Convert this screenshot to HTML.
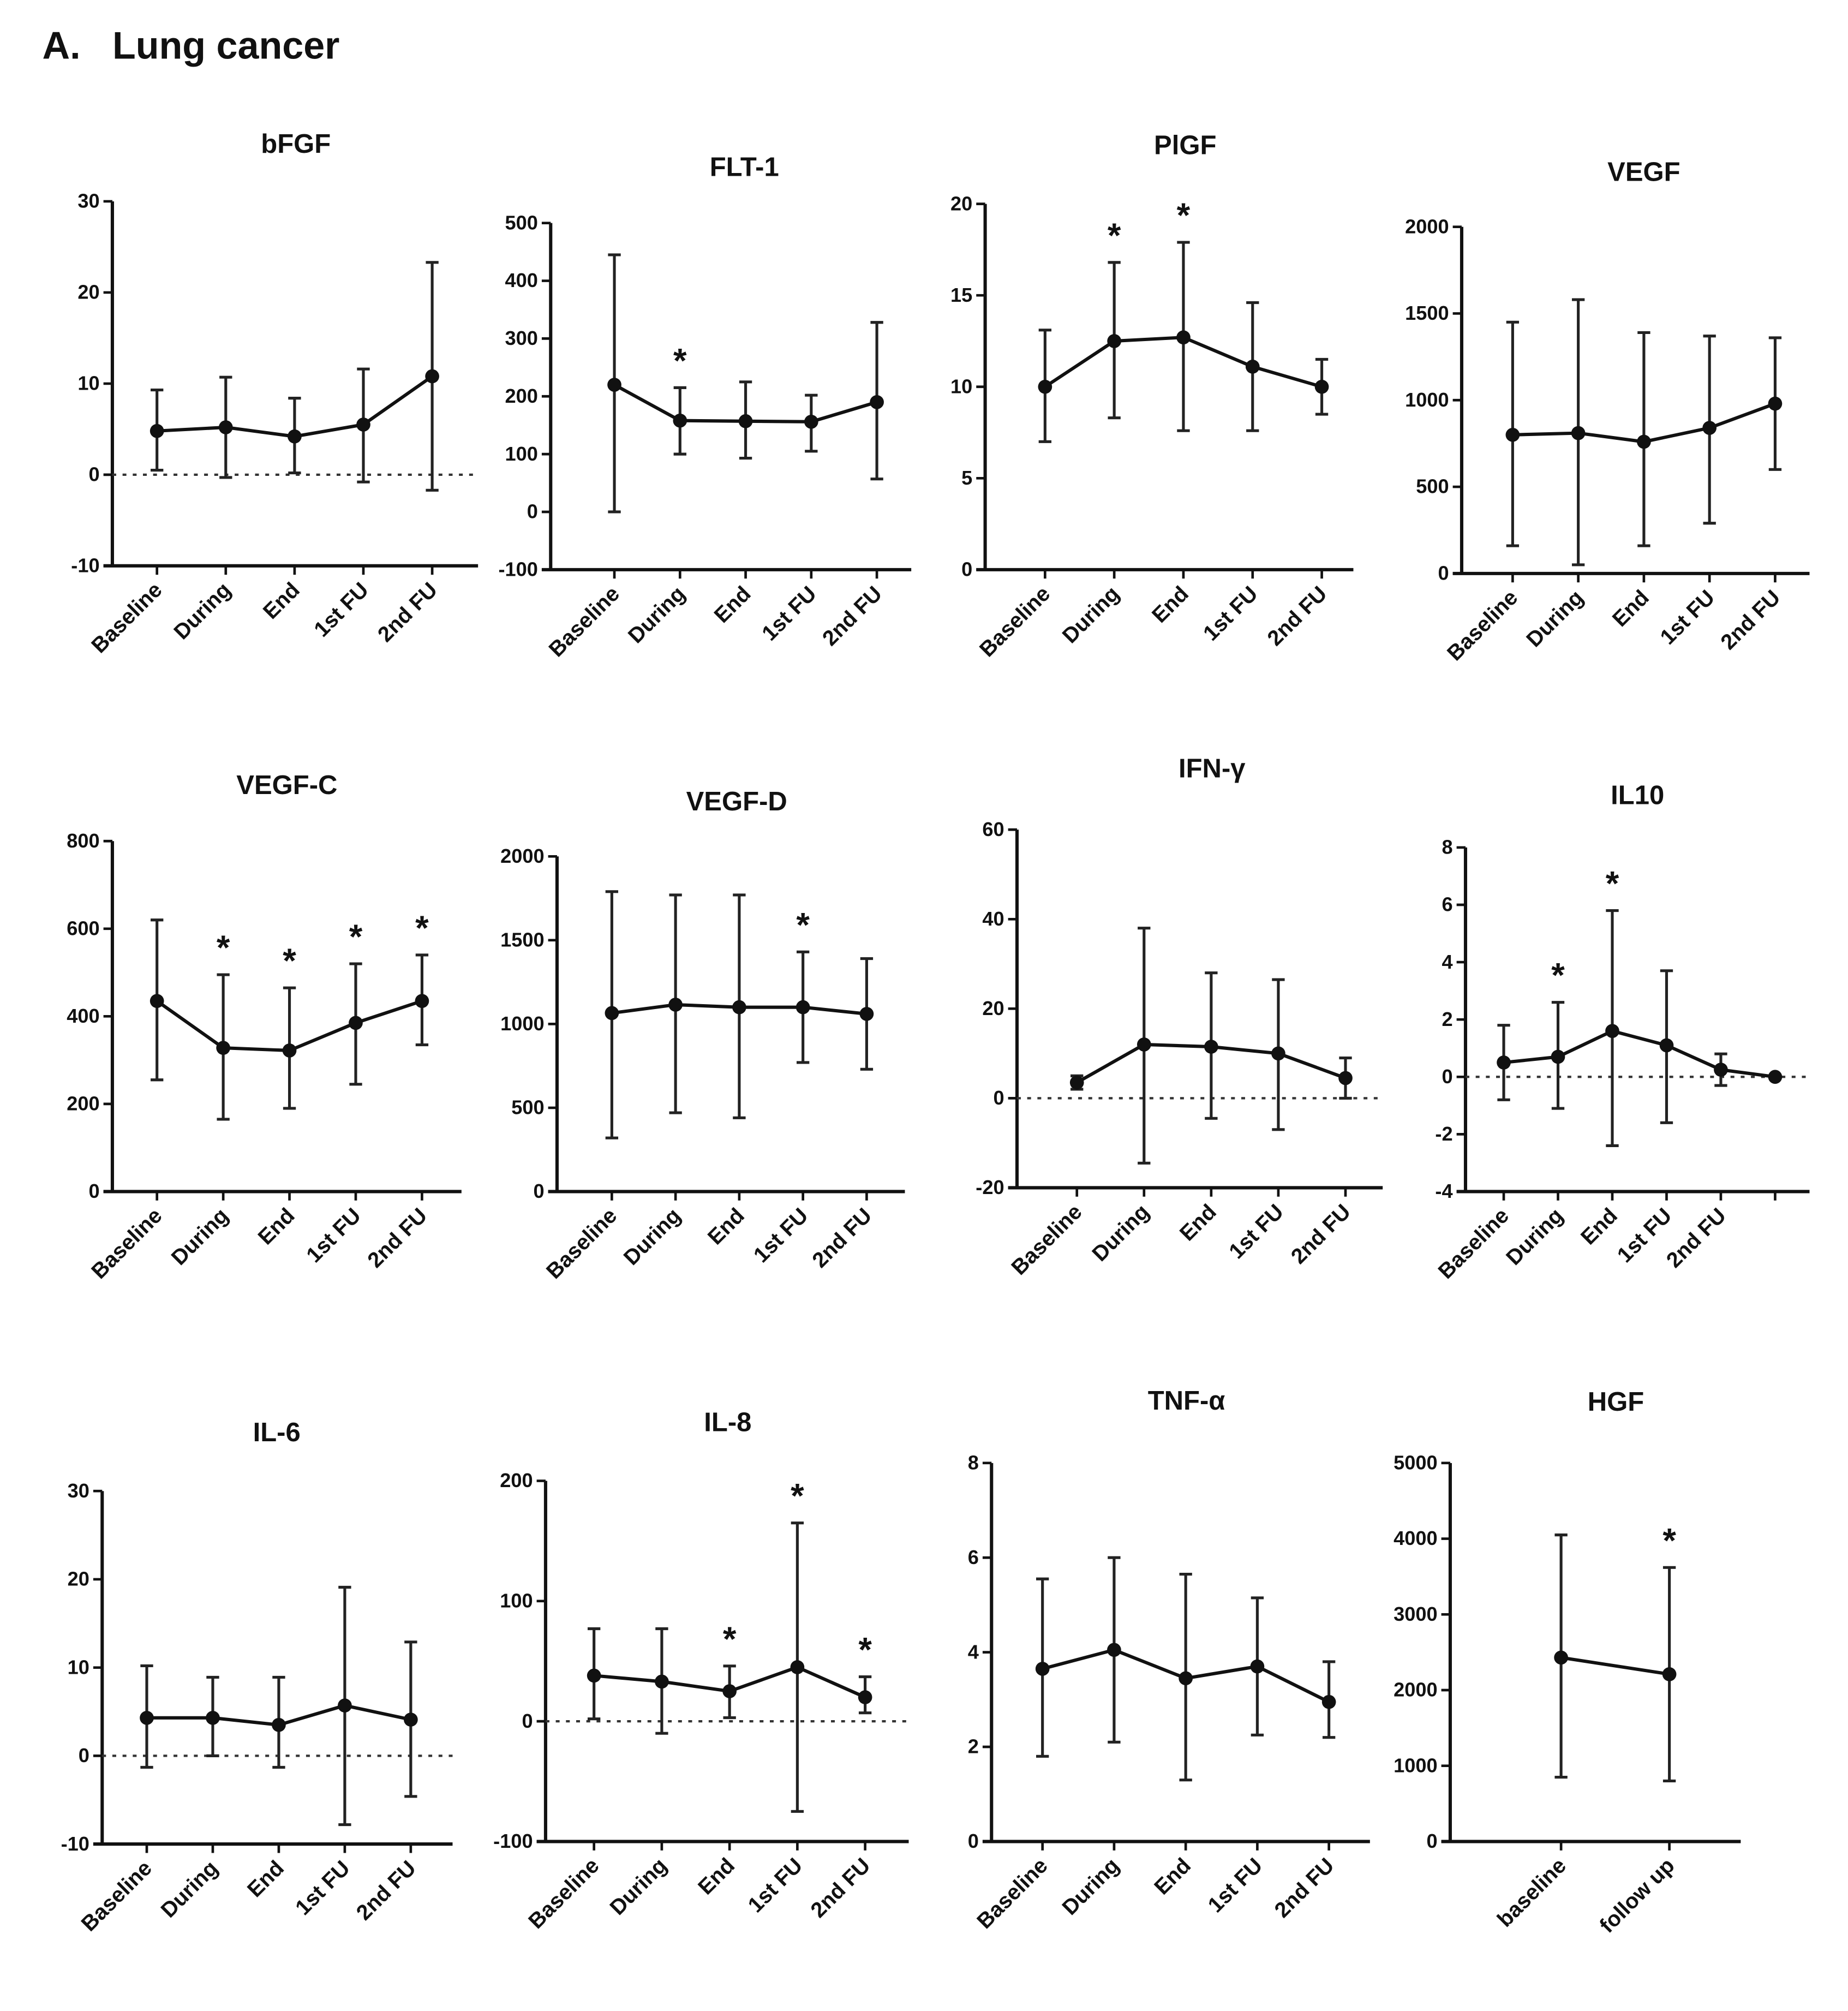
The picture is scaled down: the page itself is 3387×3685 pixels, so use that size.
<!DOCTYPE html>
<html><head><meta charset="utf-8"><style>
html,body{margin:0;padding:0;background:#fff;}
svg{display:block;}
text{font-family:"Liberation Sans",Arial,sans-serif;fill:#111;}
</style></head><body>
<svg id="fig" width="3387" height="3685" viewBox="0 0 1450 1578" xmlns="http://www.w3.org/2000/svg">
<text x="33" y="46" font-size="30" font-weight="bold" xml:space="preserve">A.   Lung cancer</text>
</svg>
<script>
const labels5 = ["Baseline","During","End","1st FU","2nd FU"];
const bfgfMean=[4.8,5.2,4.2,5.5,10.8], bfgfUp=[9.3,10.7,8.4,11.6,23.3], bfgfLo=[0.5,-0.3,0.2,-0.8,-1.7];
const flt1Mean=[220,158,157,156,190], flt1Up=[445,215,225,202,328], flt1Lo=[0,100,93,105,57];
const plgfMean=[10,12.5,12.7,11.1,10], plgfUp=[13.1,16.8,17.9,14.6,11.5], plgfLo=[7,8.3,7.6,7.6,8.5];
const vegfMean=[800,810,760,840,980], vegfUp=[1450,1580,1390,1370,1360], vegfLo=[160,50,160,290,600];
const vegfcMean=[435,328,322,385,435], vegfcUp=[620,495,465,520,540], vegfcLo=[255,165,190,245,335];
const vegfdMean=[1065,1115,1100,1100,1060], vegfdUp=[1790,1770,1770,1430,1390], vegfdLo=[320,470,440,770,730];
const ifnMean=[3.5,12,11.5,10,4.5], ifnUp=[5,38,28,26.5,9], ifnLo=[2,-14.5,-4.5,-7,0];
const il10Mean=[0.5,0.7,1.6,1.1,0.25,0], il10Up=[1.8,2.6,5.8,3.7,0.8,0], il10Lo=[-0.8,-1.1,-2.4,-1.6,-0.3,0];
const il6Mean=[4.3,4.3,3.5,5.7,4.1], il6Up=[10.2,8.9,8.9,19.1,12.9], il6Lo=[-1.3,0,-1.3,-7.8,-4.6];
const il8Mean=[38,33,25,45,20], il8Up=[77,77,46,165,37], il8Lo=[2,-10,3,-75,7];
const tnfMean=[3.65,4.05,3.45,3.7,2.95], tnfUp=[5.55,6,5.65,5.15,3.8], tnfLo=[1.8,2.1,1.3,2.25,2.2];
const hgfLabels=["baseline","follow up"];
const hgfMean=[2430,2210], hgfUp=[4050,3620], hgfLo=[850,800];

const panels=[
 {name:"bFGF",ax:88,x0:123,dx:54,xEnd:375,yTop:158,yBot:444,min:-10,max:30,ticks:[-10,0,10,20,30],tx:232,ty:120,mean:bfgfMean,up:bfgfUp,lo:bfgfLo,zero:true,stars:[],labels:labels5},
 {name:"FLT-1",ax:432,x0:482,dx:51.5,xEnd:715,yTop:175,yBot:447,min:-100,max:500,ticks:[-100,0,100,200,300,400,500],tx:584,ty:138,mean:flt1Mean,up:flt1Up,lo:flt1Lo,stars:[1],labels:labels5},
 {name:"PlGF",ax:773,x0:820,dx:54.3,xEnd:1062,yTop:160,yBot:447,min:0,max:20,ticks:[0,5,10,15,20],tx:930,ty:121,mean:plgfMean,up:plgfUp,lo:plgfLo,stars:[1,2],labels:labels5},
 {name:"VEGF",ax:1147,x0:1187,dx:51.5,xEnd:1420,yTop:178,yBot:450,min:0,max:2000,ticks:[0,500,1000,1500,2000],tx:1290,ty:142,mean:vegfMean,up:vegfUp,lo:vegfLo,stars:[],labels:labels5},
 {name:"VEGF-C",ax:88,x0:123,dx:52,xEnd:362,yTop:660,yBot:935,min:0,max:800,ticks:[0,200,400,600,800],tx:225,ty:623,mean:vegfcMean,up:vegfcUp,lo:vegfcLo,stars:[1,2,3,4],labels:labels5},
 {name:"VEGF-D",ax:437,x0:480,dx:50,xEnd:710,yTop:672,yBot:935,min:0,max:2000,ticks:[0,500,1000,1500,2000],tx:578,ty:636,mean:vegfdMean,up:vegfdUp,lo:vegfdLo,stars:[3],labels:labels5},
 {name:"IFN-γ",ax:798,x0:845,dx:52.7,xEnd:1085,yTop:651,yBot:932,min:-20,max:60,ticks:[-20,0,20,40,60],tx:951,ty:610,mean:ifnMean,up:ifnUp,lo:ifnLo,zero:true,stars:[],labels:labels5},
 {name:"IL10",ax:1150,x0:1180,dx:42.6,xEnd:1420,yTop:665,yBot:935,min:-4,max:8,ticks:[-4,-2,0,2,4,6,8],tx:1285,ty:631,mean:il10Mean,up:il10Up,lo:il10Lo,zero:true,stars:[1,2],labels:labels5},
 {name:"IL-6",ax:80,x0:115,dx:51.8,xEnd:355,yTop:1170,yBot:1447,min:-10,max:30,ticks:[-10,0,10,20,30],tx:217,ty:1131,mean:il6Mean,up:il6Up,lo:il6Lo,zero:true,stars:[],labels:labels5},
 {name:"IL-8",ax:428,x0:466,dx:53.2,xEnd:713,yTop:1162,yBot:1445,min:-100,max:200,ticks:[-100,0,100,200],tx:571,ty:1123,mean:il8Mean,up:il8Up,lo:il8Lo,zero:true,stars:[2,3,4],labels:labels5},
 {name:"TNF-α",ax:778,x0:818,dx:56.2,xEnd:1075,yTop:1148,yBot:1445,min:0,max:8,ticks:[0,2,4,6,8],tx:931,ty:1106,mean:tnfMean,up:tnfUp,lo:tnfLo,stars:[],labels:labels5},
 {name:"HGF",ax:1138,x0:1225,dx:85,xEnd:1366,yTop:1148,yBot:1445,min:0,max:5000,ticks:[0,1000,2000,3000,4000,5000],tx:1268,ty:1107,mean:hgfMean,up:hgfUp,lo:hgfLo,stars:[1],labels:hgfLabels}
];
const NS="http://www.w3.org/2000/svg";
const svg=document.getElementById('fig');
function mk(tag,attrs,parent){const e=document.createElementNS(NS,tag);for(const k in attrs)e.setAttribute(k,attrs[k]);parent.appendChild(e);return e;}
panels.forEach(p=>{
 const slug=p.name.toLowerCase().replace(/[^a-z0-9]+/g,'-').replace(/-$/,'');
 const g=mk('g',{},svg);
 
 
 const ys=v=>p.yBot-(v-p.min)/(p.max-p.min)*(p.yBot-p.yTop);
 const xs=i=>p.x0+i*p.dx;
 const t=mk('text',{x:p.tx,y:p.ty,'font-size':21,'font-weight':'bold','text-anchor':'middle'},g);t.textContent=p.name;
 
 
 const ya=mk('line',{x1:p.ax,y1:p.yTop,x2:p.ax,y2:p.yBot,stroke:'#111','stroke-width':2.6},g);
 
 
 const xa=mk('line',{x1:p.ax-7,y1:p.yBot,x2:p.xEnd,y2:p.yBot,stroke:'#111','stroke-width':2.6},g);
 
 
 p.ticks.forEach(v=>{
  mk('line',{x1:p.ax-7,y1:ys(v),x2:p.ax,y2:ys(v),stroke:'#111','stroke-width':2},g);
  const tl=mk('text',{x:p.ax-10,y:ys(v)+5,'font-size':15.5,'font-weight':'bold','text-anchor':'end'},g);tl.textContent=v;
  
  
 });
 if(p.zero){const z=mk('line',{x1:p.ax,y1:ys(0),x2:p.xEnd,y2:ys(0),stroke:'#333','stroke-width':1.8,'stroke-dasharray':'3,5'},g);
  
  }
 p.mean.forEach((m,i)=>{
  const x=xs(i);
  mk('line',{x1:x,y1:p.yBot,x2:x,y2:p.yBot+7,stroke:'#111','stroke-width':2},g);
  const eb=mk('path',{d:`M${x},${ys(p.up[i])}V${ys(p.lo[i])}M${x-5},${ys(p.up[i])}h10M${x-5},${ys(p.lo[i])}h10`,stroke:'#222','stroke-width':2.2,fill:'none'},g);
  
  
 });
 const line=mk('path',{d:p.mean.map((m,i)=>(i?'L':'M')+xs(i)+','+ys(m)).join(''),stroke:'#111','stroke-width':2.6,fill:'none'},g);
 
 
 p.mean.forEach((m,i)=>{
  const pt=mk('circle',{cx:xs(i),cy:ys(m),r:5.5,fill:'#111'},g);
  
  
 });
 p.stars.forEach(i=>{
  const s=mk('text',{x:xs(i),y:ys(p.up[i])-12,'font-size':27,'font-weight':'bold','text-anchor':'middle'},g);s.textContent='*';
  
  
 });
 p.labels.forEach((l,i)=>{
  const x=xs(i)+5,y=p.yBot+20;
  const tl=mk('text',{x:x,y:y,'font-size':17,'font-weight':'bold','text-anchor':'end',transform:`rotate(-45 ${x} ${y})`},g);tl.textContent=l;
  
  
 });
});
</script>
</body></html>
